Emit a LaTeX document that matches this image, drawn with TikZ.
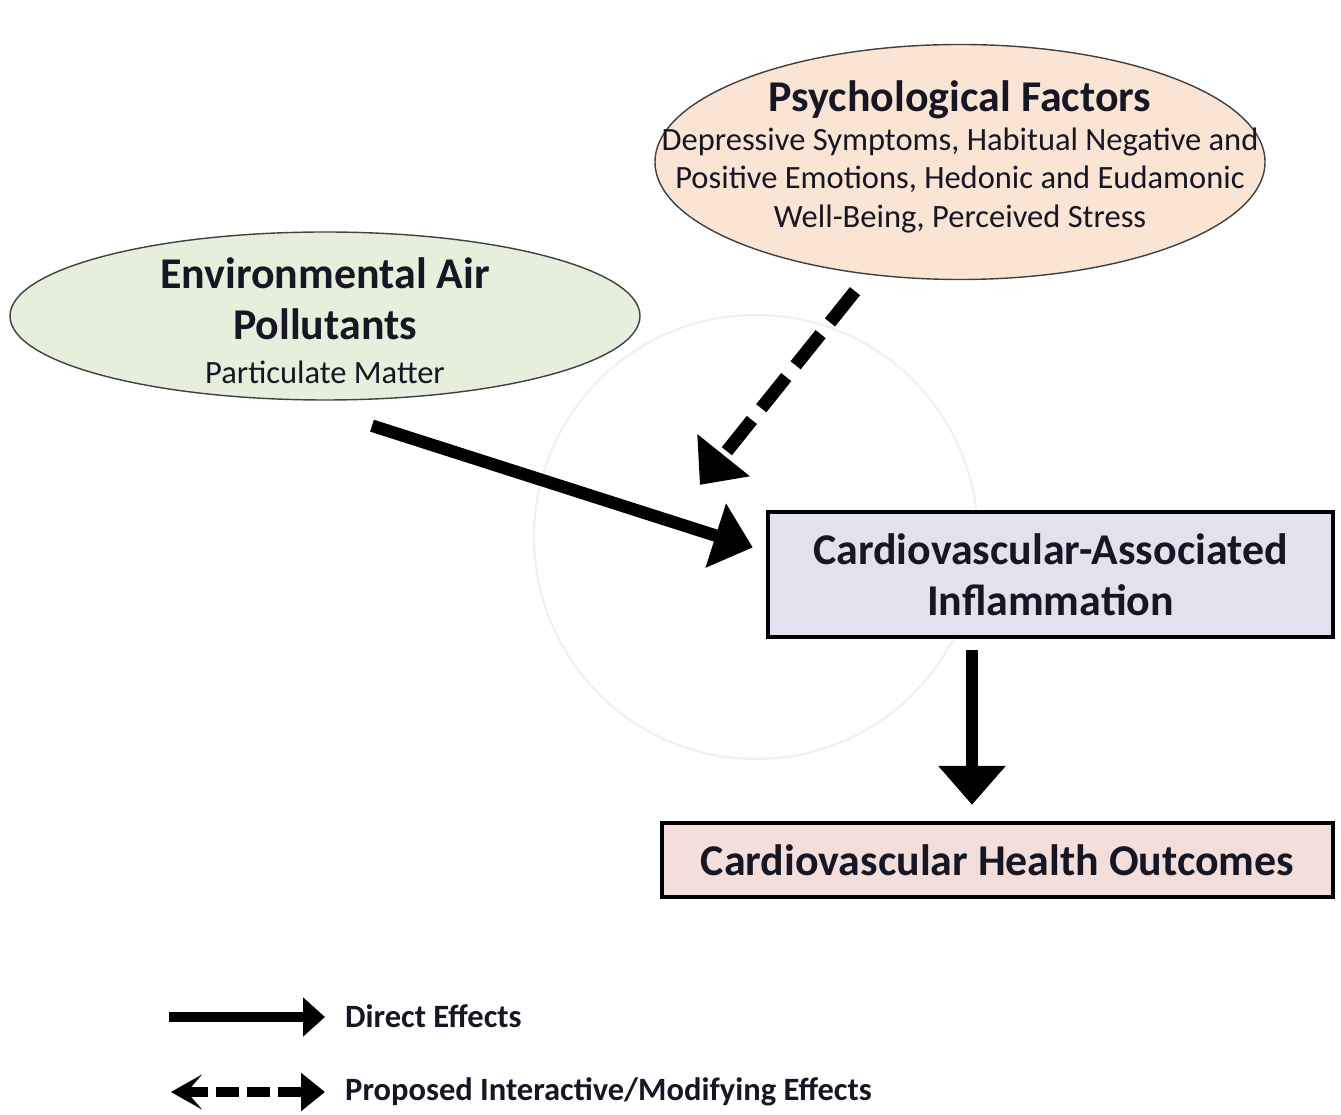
\documentclass[tikz,border=0pt]{standalone}
\usepackage{fontspec}
\setmainfont{Carlito}
\usetikzlibrary{arrows.meta}
\usetikzlibrary{shapes.geometric}
\usetikzlibrary{calc}
\definecolor{peach}{RGB}{250,228,212}
\definecolor{sage}{RGB}{232,238,220}
\definecolor{lavender}{RGB}{228,224,237}
\definecolor{blush}{RGB}{243,222,220}
\definecolor{ink}{RGB}{22,22,36}
\newcommand\bigbold{\fontsize{25}{29}\bfseries\selectfont}
\newcommand\smallreg{\fontsize{18.5}{22}\mdseries\selectfont}
\tikzset{
  factor/.style={ellipse, draw=black!75, line width=0.8pt, inner sep=0pt},
  factortext/.style={text=ink, align=center, inner sep=0pt},
  outbox/.style={rectangle, draw=black, line width=2.4pt, inner sep=0pt, text=ink, align=center, font=\bigbold},
  effect/.style={line width=0.25cm, -{Triangle[length=0.78cm,width=1.3cm]}},
  proposed/.style={line width=0.26cm, dash pattern=on 0.8cm off 0.3cm, -{Triangle[length=0.76cm,width=1.3cm]}},
  legline/.style={line width=0.2cm, -{Triangle[length=0.44cm,width=0.76cm]}},
  legtext/.style={anchor=west, text=ink, font=\fontsize{18.5}{22}\bfseries\selectfont},
}

\begin{document}
\begin{tikzpicture}
    \useasboundingbox (0,0) rectangle (26.82,22.28);
    % faint ring behind the arrows
    \draw [line width=1.2pt, black!6] (15.12,11.54) circle (4.44);

    \node [factor, fill=peach, minimum width=12.2cm, minimum height=4.7cm] (psych) at (19.2,19.04) {};
    \node [factortext, font=\smallreg] (psychtext) at ($(psych.center)+(0,0.1)$)
      {{\bigbold Psychological Factors}\\[0pt]
       Depressive Symptoms, Habitual Negative and\\
       Positive Emotions, Hedonic and Eudamonic\\
       Well-Being, Perceived Stress};
    \node [factor, fill=sage, minimum width=12.6cm, minimum height=3.36cm] (envair) at (6.5,15.96) {};
    \node [factortext, font=\bigbold] (envtext) at ($(envair.center)+(0,-0.1)$)
      {Environmental Air\\
       Pollutants\\[-4pt]
       {\smallreg Particulate Matter}};

    \node [outbox, fill=lavender, minimum width=11.3cm, minimum height=2.5cm] (inflam) at (21.01,10.79)
      {Cardiovascular-Associated\\Inflammation};
    \node [outbox, fill=blush, minimum width=13.42cm, minimum height=1.48cm] (outcome) at (19.95,5.08)
      {Cardiovascular Health Outcomes};

    \coordinate (envout) at ($(envair.south)+(0.94,-0.5)$);
    \coordinate (psychout) at ($(psych.south)+(-2.1,-0.22)$);
    \coordinate (inflbot) at (19.44,9.28);
    \draw [effect] (envout) -- ([xshift=-0.26cm,yshift=0.54cm]inflam.west);
    \draw [proposed] (psychout) -- ([xshift=-1.32cm,yshift=0.5cm]inflam.north west);
    \draw [effect, shorten >=0.32cm] (inflbot) -- (inflbot |- outcome.north);

    % legend
    \coordinate (dirA) at (3.38,1.94);
    \coordinate (dirB) at (6.5,1.94);
    \coordinate (propA) at (3.42,0.44);
    \coordinate (propB) at (6.5,0.44);
    \draw [legline] (dirA) -- (dirB);
    \draw [line width=0.2cm, dash pattern=on 0.46cm off 0.16cm,
      {Stealth[length=0.62cm,width=0.7cm,inset=0.3cm]}-{Triangle[length=0.48cm,width=0.74cm]}] (propA) -- (propB);
    \node [legtext] (dirtext) at (6.78,1.96) {Direct Effects};
    \node [legtext] (proptext) at (6.78,0.44) {Proposed Interactive/Modifying Effects};
\end{tikzpicture}
\end{document}
